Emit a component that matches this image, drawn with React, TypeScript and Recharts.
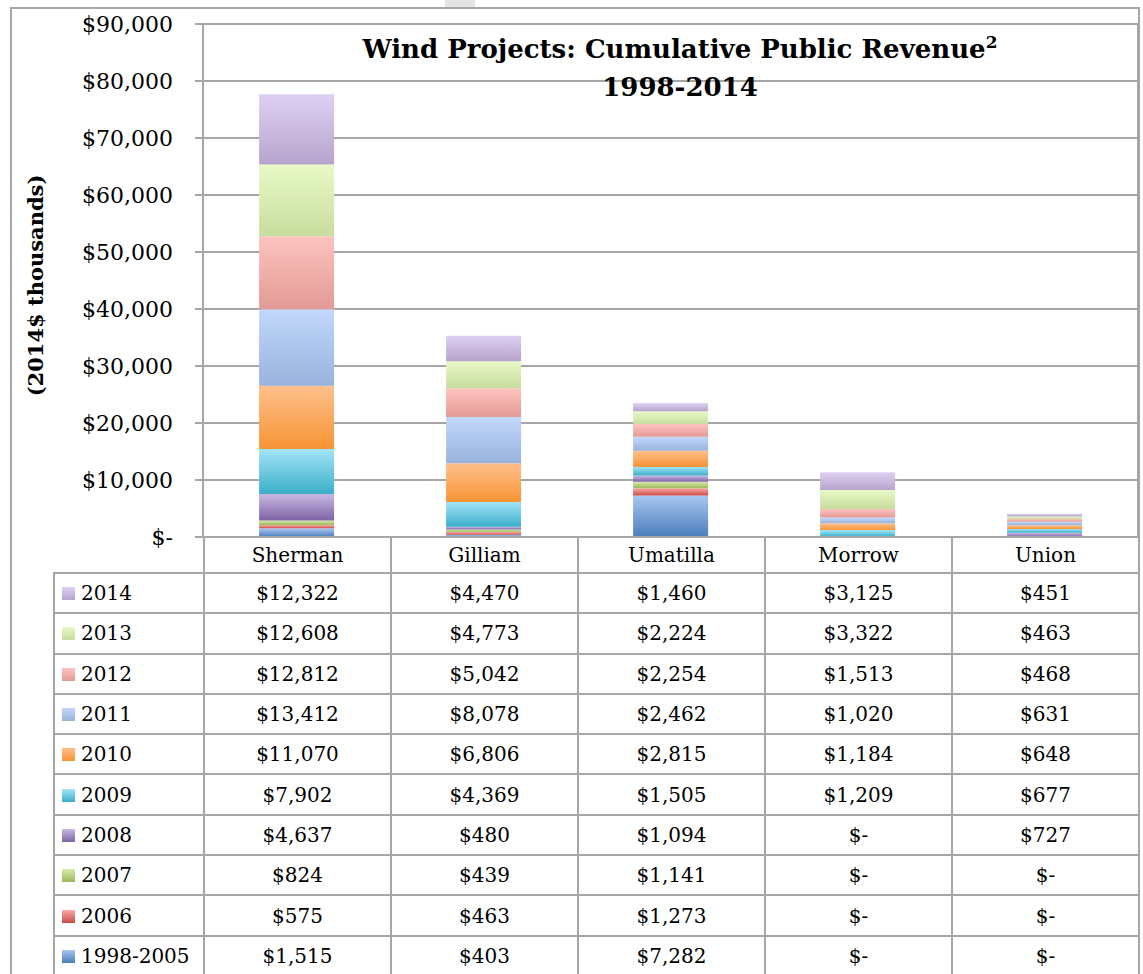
import { BarChart, Bar, YAxis, XAxis, CartesianGrid } from "recharts";

const counties = ["Sherman", "Gilliam", "Umatilla", "Morrow", "Union"];

// stacking order, bottom to top
const years = ["1998-2005", "2006", "2007", "2008", "2009", "2010", "2011", "2012", "2013", "2014"];

const revenue: Record<string, number[]> = {
  "1998-2005": [1515, 403, 7282, 0, 0],
  "2006": [575, 463, 1273, 0, 0],
  "2007": [824, 439, 1141, 0, 0],
  "2008": [4637, 480, 1094, 0, 727],
  "2009": [7902, 4369, 1505, 1209, 677],
  "2010": [11070, 6806, 2815, 1184, 648],
  "2011": [13412, 8078, 2462, 1020, 631],
  "2012": [12812, 5042, 2254, 1513, 468],
  "2013": [12608, 4773, 2224, 3322, 463],
  "2014": [12322, 4470, 1460, 3125, 451],
};

const yTicks = [0, 10000, 20000, 30000, 40000, 50000, 60000, 70000, 80000, 90000];

const colors: Record<string, [string, string]> = {
  "1998-2005": ["#a9c6f0", "#4a7ebb"],
  "2006": ["#f9aba8", "#cb4b48"],
  "2007": ["#d7eaae", "#9aba58"],
  "2008": ["#c9b9e2", "#7e63a6"],
  "2009": ["#a3e5f8", "#3aaec9"],
  "2010": ["#fec08c", "#f79434"],
  "2011": ["#c2d8fb", "#98b3dd"],
  "2012": ["#fdc3bf", "#e39a95"],
  "2013": ["#e8f9c6", "#c8dd9e"],
  "2014": ["#ded0f3", "#b7a4cd"],
};

const data = counties.map((c, i) => {
  const row: Record<string, string | number> = { county: c };
  years.forEach((y) => (row[y] = revenue[y][i]));
  return row;
});

const money = (v: number) => (v === 0 ? "$-" : "$" + v.toLocaleString("en-US"));
const gid = (y: string) => "g" + y.replace("-", "_");

const FONT = "'DejaVu Serif', serif";
const LINE = "#a6a6a6";

export default function App() {
  const cell: React.CSSProperties = {
    border: `2px solid ${LINE}`,
    textAlign: "center",
    padding: 0,
    fontSize: 20,
  };
  return (
    <div style={{ position: "absolute", left: 0, top: 0, width: 1143, height: 974, background: "#fff", overflow: "hidden", fontFamily: FONT }}>
      <div style={{ position: "absolute", left: 445, top: 0, width: 30, height: 7, background: "#e4e4e4" }} />
      <div style={{ position: "absolute", left: 10, top: 7, width: 1130, height: 980, border: `2px solid ${LINE}`, boxSizing: "border-box" }} />
      <BarChart
        width={1143}
        height={560}
        data={data}
        margin={{ top: 24, right: 5, left: 8, bottom: 23 }}
        barCategoryGap="30%"
        style={{ position: "absolute", left: 0, top: 0 }}
      >
        <defs>
          {years.map((y) => (
            <linearGradient key={y} id={gid(y)} x1="0" y1="0" x2="0" y2="1">
              <stop offset="0%" stopColor={colors[y][0]} />
              <stop offset="100%" stopColor={colors[y][1]} />
            </linearGradient>
          ))}
        </defs>
        <CartesianGrid
          stroke={LINE}
          strokeWidth={2}
          verticalCoordinatesGenerator={({ offset }: any) => [offset.left, offset.left + offset.width]}
        />
        <XAxis dataKey="county" hide />
        <YAxis
          width={195}
          domain={[0, 90000]}
          ticks={yTicks}
          interval={0}
          tickFormatter={money}
          tickSize={8}
          tickMargin={22}
          axisLine={{ stroke: LINE, strokeWidth: 2 }}
          tickLine={{ stroke: LINE, strokeWidth: 2 }}
          tick={{ fill: "#000", fontSize: 22, fontFamily: FONT }}
          label={{
            content: ({ viewBox }: any) => {
              const cx = viewBox.x + 27;
              const cy = viewBox.y + viewBox.height / 2 + 5;
              return (
                <text
                  x={cx}
                  y={cy}
                  transform={`rotate(-90 ${cx} ${cy})`}
                  textAnchor="middle"
                  dominantBaseline="central"
                  fontFamily={FONT}
                  fontWeight="bold"
                  fontSize={21}
                  fill="#000"
                >
                  (2014$ thousands)
                </text>
              );
            },
          }}
        />
        {years.map((y) => (
          <Bar key={y} dataKey={y} stackId="a" fill={`url(#${gid(y)})`} isAnimationActive={false} />
        ))}
      </BarChart>

      <div
        style={{
          position: "absolute",
          left: 280,
          width: 800,
          top: 30,
          textAlign: "center",
          fontWeight: "bold",
          fontSize: 26,
          lineHeight: "38px",
          color: "#000",
          whiteSpace: "nowrap",
        }}
      >
        <div>
          Wind Projects: Cumulative Public Revenue<sup style={{ fontSize: 17, lineHeight: 0 }}>2</sup>
        </div>
        <div>1998-2014</div>
      </div>

      <table
        style={{
          position: "absolute",
          left: 53,
          top: 536,
          borderCollapse: "collapse",
          tableLayout: "fixed",
          fontFamily: FONT,
          color: "#000",
        }}
      >
        <colgroup>
          <col style={{ width: 150 }} />
          {counties.map((c) => (
            <col key={c} style={{ width: 187 }} />
          ))}
        </colgroup>
        <tbody>
          <tr style={{ height: 36 }}>
            <td style={{ border: "none", borderRight: `2px solid ${LINE}` }} />
            {counties.map((c) => (
              <td key={c} style={cell}>
                {c}
              </td>
            ))}
          </tr>
          {[...years].reverse().map((y) => (
            <tr key={y} style={{ height: 40.3 }}>
              <td style={{ ...cell, textAlign: "left", paddingLeft: 7 }}>
                <span
                  style={{
                    display: "inline-block",
                    width: 13,
                    height: 13,
                    marginRight: 6,
                    background: `linear-gradient(${colors[y][0]}, ${colors[y][1]})`,
                  }}
                />
                {y}
              </td>
              {revenue[y].map((v, i) => (
                <td key={i} style={cell}>
                  {money(v)}
                </td>
              ))}
            </tr>
          ))}
        </tbody>
      </table>
    </div>
  );
}
